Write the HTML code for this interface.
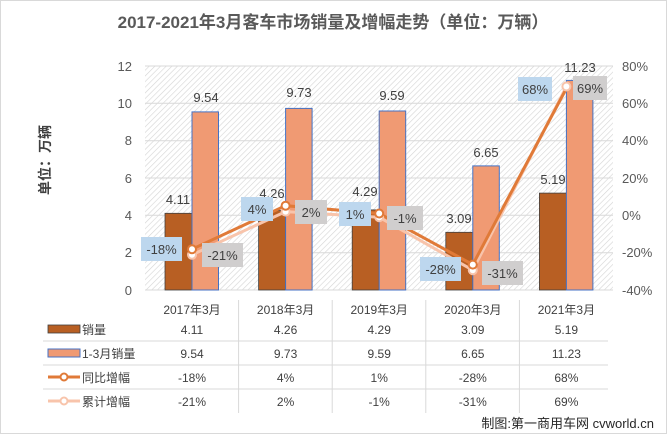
<!DOCTYPE html>
<html><head><meta charset="utf-8"><style>
body{margin:0;background:#fff}
svg{display:block;font-family:"Liberation Sans","Noto Sans CJK SC",sans-serif}
</style></head><body>
<svg width="667" height="434" viewBox="0 0 667 434">
<defs>
<pattern id="h" width="4" height="4" patternUnits="userSpaceOnUse" patternTransform="rotate(45)">
<rect width="4" height="4" fill="#fff"/><line x1="0" y1="0" x2="0" y2="4" stroke="#d4d4d4" stroke-width="1.2"/>
</pattern>
</defs>
<rect x="0.5" y="0.5" width="666" height="433" fill="#fff" stroke="#d9d9d9"/>
<text x="333" y="28" text-anchor="middle" font-size="17" font-weight="bold" fill="#595959">2017-2021年3月客车市场销量及增幅走势（单位：万辆）</text>
<text transform="translate(50,160) rotate(-90)" text-anchor="middle" font-size="14" font-weight="bold" fill="#404040">单位：万辆</text>
<rect x="145" y="66" width="468" height="224" fill="url(#h)"/>
<g stroke="#d9d9d9" stroke-width="1">
<line x1="145" x2="613" y1="66" y2="66"/><line x1="145" x2="613" y1="103.3" y2="103.3"/>
<line x1="145" x2="613" y1="140.7" y2="140.7"/><line x1="145" x2="613" y1="178" y2="178"/>
<line x1="145" x2="613" y1="215.3" y2="215.3"/><line x1="145" x2="613" y1="252.7" y2="252.7"/>
<line x1="145" x2="613" y1="290" y2="290"/>
</g>
<g font-size="13" fill="#595959" text-anchor="end">
<text x="132" y="71">12</text><text x="132" y="108">10</text><text x="132" y="145">8</text>
<text x="132" y="183">6</text><text x="132" y="220">4</text><text x="132" y="257">2</text><text x="132" y="295">0</text>
</g>
<g font-size="13" fill="#595959" text-anchor="start">
<text x="622" y="71">80%</text><text x="622" y="145">40%</text><text x="622" y="108">60%</text>
<text x="622" y="183">20%</text><text x="622" y="220">0%</text><text x="622" y="257">-20%</text><text x="622" y="295">-40%</text>
</g>
<g fill="#b85f23" stroke="#404040" stroke-width="0.8">
<rect x="165" y="213.3" width="27" height="76.7"/>
<rect x="258.6" y="210.5" width="27" height="79.5"/>
<rect x="352.2" y="209.9" width="27" height="80.1"/>
<rect x="445.8" y="232.3" width="27" height="57.7"/>
<rect x="539.4" y="193.1" width="27" height="96.9"/>
</g>
<g fill="#f09a73" stroke="#4472c4" stroke-width="1">
<rect x="192" y="111.9" width="26.5" height="178.1"/>
<rect x="285.6" y="108.4" width="26.5" height="181.6"/>
<rect x="379.2" y="111" width="26.5" height="179"/>
<rect x="472.8" y="165.9" width="26.5" height="124.1"/>
<rect x="566.4" y="80.4" width="26.5" height="209.6"/>
</g>
<g font-size="13" fill="#404040" text-anchor="middle">
<text x="178" y="204">4.11</text><text x="272" y="198">4.26</text><text x="365" y="196">4.29</text>
<text x="459" y="223">3.09</text><text x="553" y="184">5.19</text>
<text x="206" y="102">9.54</text><text x="299" y="97">9.73</text><text x="392" y="100">9.59</text>
<text x="486" y="157">6.65</text><text x="580" y="72">11.23</text>
</g>
<polyline points="192,254.8 285.6,211.6 379.2,217.2 472.8,270.2 566.4,86.5" fill="none" stroke="#f8c4ab" stroke-width="3"/>
<polyline points="192,249.2 285.6,205.7 379.2,213.5 472.8,264.6 566.4,88.4" fill="none" stroke="#e07a38" stroke-width="3"/>
<g fill="#fff" stroke="#f8c4ab" stroke-width="2">
<circle cx="192" cy="254.8" r="4"/><circle cx="285.6" cy="211.6" r="4"/><circle cx="379.2" cy="217.2" r="4"/><circle cx="472.8" cy="270.2" r="4"/><circle cx="566.4" cy="86.5" r="4"/>
</g>
<g fill="#fff" stroke="#e07a38" stroke-width="2">
<circle cx="192" cy="249.2" r="4"/><circle cx="285.6" cy="205.7" r="4"/><circle cx="379.2" cy="213.5" r="4"/><circle cx="472.8" cy="264.6" r="4"/>
</g>
<g font-size="13" fill="#404040" text-anchor="middle">
<rect x="141" y="237" width="41" height="24" fill="#bdd7ee"/><text x="161.5" y="254">-18%</text>
<rect x="202" y="243" width="41" height="24" fill="#d0cece"/><text x="222.5" y="260">-21%</text>
<rect x="241" y="197" width="32" height="24" fill="#bdd7ee"/><text x="257" y="214">4%</text>
<rect x="295" y="200" width="32" height="24" fill="#d0cece"/><text x="311" y="217">2%</text>
<rect x="339" y="202" width="32" height="24" fill="#bdd7ee"/><text x="355" y="219">1%</text>
<rect x="387" y="206" width="36" height="24" fill="#d0cece"/><text x="405" y="223">-1%</text>
<rect x="420" y="257" width="41" height="24" fill="#bdd7ee"/><text x="440.5" y="274">-28%</text>
<rect x="482" y="261" width="41" height="24" fill="#d0cece"/><text x="502.5" y="278">-31%</text>
<rect x="518" y="77" width="34" height="24" fill="#bdd7ee"/><text x="535" y="94">68%</text>
<rect x="573" y="76" width="34" height="24" fill="#d0cece"/><text x="590" y="93">69%</text>
</g>
<g stroke="#d9d9d9" stroke-width="1">
<line x1="43" x2="608" y1="341" y2="341"/><line x1="43" x2="608" y1="365" y2="365"/><line x1="43" x2="608" y1="389" y2="389"/>
<line x1="238.6" x2="238.6" y1="300" y2="413"/><line x1="332.2" x2="332.2" y1="300" y2="413"/>
<line x1="425.8" x2="425.8" y1="300" y2="413"/><line x1="519.4" x2="519.4" y1="300" y2="413"/>
</g>
<g font-size="12" fill="#404040" text-anchor="middle">
<text x="192" y="314">2017年3月</text><text x="285.6" y="314">2018年3月</text><text x="379.2" y="314">2019年3月</text><text x="472.8" y="314">2020年3月</text><text x="566.4" y="314">2021年3月</text>
<text x="192" y="334">4.11</text><text x="285.6" y="334">4.26</text><text x="379.2" y="334">4.29</text><text x="472.8" y="334">3.09</text><text x="566.4" y="334">5.19</text>
<text x="192" y="358">9.54</text><text x="285.6" y="358">9.73</text><text x="379.2" y="358">9.59</text><text x="472.8" y="358">6.65</text><text x="566.4" y="358">11.23</text>
<text x="192" y="382">-18%</text><text x="285.6" y="382">4%</text><text x="379.2" y="382">1%</text><text x="472.8" y="382">-28%</text><text x="566.4" y="382">68%</text>
<text x="192" y="406">-21%</text><text x="285.6" y="406">2%</text><text x="379.2" y="406">-1%</text><text x="472.8" y="406">-31%</text><text x="566.4" y="406">69%</text>
</g>
<rect x="48" y="325" width="32" height="8" fill="#b85f23" stroke="#404040" stroke-width="0.8"/>
<rect x="48" y="349" width="32" height="8" fill="#f09a73" stroke="#4472c4" stroke-width="1"/>
<line x1="48" x2="80" y1="377" y2="377" stroke="#e07a38" stroke-width="3"/><circle cx="64" cy="377" r="3.5" fill="#fff" stroke="#e07a38" stroke-width="2"/>
<line x1="48" x2="80" y1="401" y2="401" stroke="#f8c4ab" stroke-width="3"/><circle cx="64" cy="401" r="3.5" fill="#fff" stroke="#f8c4ab" stroke-width="2"/>
<g font-size="12" fill="#404040">
<text x="82" y="334">销量</text><text x="82" y="358">1-3月销量</text><text x="82" y="382">同比增幅</text><text x="82" y="406">累计增幅</text>
</g>
<text x="654" y="428" text-anchor="end" font-size="13" fill="#262626">制图:第一商用车网 cvworld.cn</text>
</svg>
</body></html>
